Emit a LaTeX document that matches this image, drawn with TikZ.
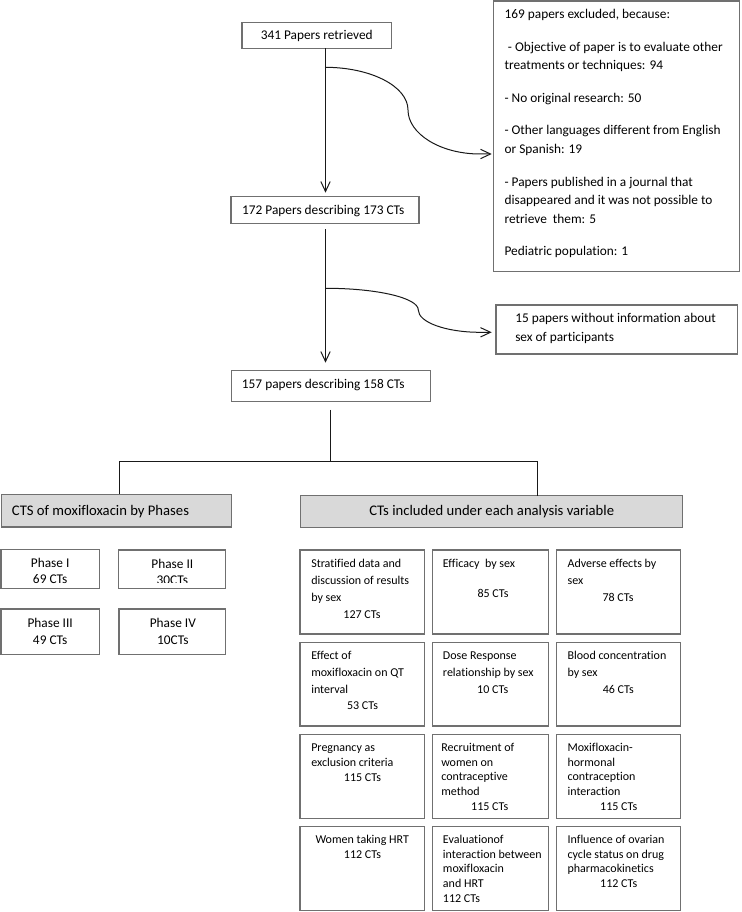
\documentclass[tikz,border=0pt]{standalone}
\usepackage{fontspec}
\setmainfont{Carlito}[Ligatures=NoCommon]
\usetikzlibrary{fit,arrows.meta,calc}
\definecolor{bordergray}{RGB}{112,112,112}
\definecolor{headfill}{RGB}{217,217,217}
\definecolor{linecol}{RGB}{25,25,25}
\tikzset{
  pxunits/.style={x=0.75pt,y=-0.75pt},
  boxs/.style={draw=bordergray, line width=0.9pt, inner sep=0pt, outer sep=0pt},
  headbox/.style={boxs, fill=headfill},
  conn/.style={draw=linecol, line width=0.75pt},
  arr/.style={conn, -{Straight Barb[length=7.5pt,width=7pt]}},
  one9/.style={inner sep=0pt, font=\fontsize{9}{11}\selectfont, text height=6pt, text depth=0pt},
  one10/.style={inner sep=0pt, font=\fontsize{10}{14}\selectfont, text height=6.6pt, text depth=0pt},
  one11/.style={inner sep=0pt, font=\fontsize{11}{14}\selectfont, text height=7.26pt, text depth=0pt},
  blockA/.style={inner sep=0pt, anchor=north west, align=left, font=\fontsize{9}{12.75}\selectfont},
  blockB/.style={inner sep=0pt, anchor=north west, align=left, font=\fontsize{9}{11}\selectfont},
  phs/.style={inner sep=0pt, anchor=north, align=center, font=\fontsize{10}{12.45}\selectfont},
}
\begin{document}
\begin{tikzpicture}[pxunits]
\useasboundingbox (0,0) rectangle (741,912);

% ---------- top boxes ----------
\node[boxs, fit={(242,22.3) (391.7,48.3)}] (b341) {};
\node[boxs, fit={(493.3,1) (739.3,271.7)}] (excl) {};
\node[boxs, fit={(231,196.7) (419,223.3)}] (b172) {};
\node[boxs, fit={(496,305) (737.7,354)}] (b15) {};
\node[boxs, fit={(231.7,370.7) (430.7,401.7)}] (b157) {};

\node[one10] (t341) at (316.7,35) {341 Papers retrieved};
\node[one10] (t172) at (323.3,210) {172 Papers describing 173 CTs};
\node[one10, anchor=west] (t157) at (241.7,384) {157 papers describing 158 CTs};

\node[inner sep=0pt, anchor=north west, align=left, font=\fontsize{10}{14}\selectfont] (texcl) at (504.3,5.3)
 {\strut 169 papers excluded, because:\\[10.4pt]
  \hspace*{2.5pt}- Objective of paper is to evaluate other\\
  treatments or techniques: 94\\[10.4pt]
  - No original research: 50\\[10.4pt]
  - Other languages different from English\\
  or Spanish: 19\\[10.4pt]
  - Papers published in a journal that\\
  disappeared and it was not possible to\\
  retrieve\ \ them: 5\\[10.4pt]
  Pediatric population: 1};

\node[inner sep=0pt, anchor=north west, align=left, font=\fontsize{10}{14.25}\selectfont] (t15) at (515,309.4)
 {\strut 15 papers without information about\\sex of participants};

% ---------- connectors ----------
\coordinate (vx1) at (325.5,0);
\draw[arr, shorten >=3pt] (b341.south -| vx1) -- (b172.north -| vx1);
\coordinate (c1) at (325,67.3);
\coordinate (e1) at ($(excl.north west)+(-1.6,153)$);
\draw[arr] (c1) .. controls (370.8,67.3) and (408,86.3) .. (408,110)
               .. controls (408,133.7) and (440.2,154) .. (480,154) -- (e1);

\draw[arr, shorten <=4.5pt, shorten >=6pt] (b172.south -| vx1) -- (b157.north -| vx1);
\coordinate (c2) at (326,288.3);
\coordinate (e2) at ($(b15.north west)+(-4.3,27.3)$);
\draw[arr] (c2) .. controls (376.8,288.3) and (418.3,297.8) .. (418.3,310)
               .. controls (418.3,322.2) and (445.8,332.3) .. (480,332.3) -- (e2);

% ---------- headers ----------
\node[headbox, fit={(1.7,494.3) (231.7,527)}] (hL) {};
\node[headbox, fit={(300.7,495.7) (682.7,527.7)}] (hR) {};
\node[one11, anchor=west] (thL) at (11.7,510.5) {CTS of moxifloxacin by Phases};
\node[one11] (thR) at (491.7,511) {CTs included under each analysis variable};

\coordinate (jm) at (330.5,461.5);
\coordinate (jl) at (119.5,461.5);
\coordinate (jr) at (537.5,461.5);
\draw[conn, shorten <=6.2pt] (b157.south -| jm) -- (jm);
\draw[conn] (hL.north -| jl) -- (jl) -- (jr) -- (hR.north -| jr);

% ---------- phases ----------
\node[boxs, fit={(1,549.3) (99.3,588.7)}] (p1) {};
\node[boxs, fit={(118.3,550) (225.7,588.7)}] (p2) {};
\node[boxs, fit={(1,609) (99.3,654.3)}] (p3) {};
\node[boxs, fit={(119,609) (225.7,654.3)}] (p4) {};
\node[phs] (tp1) at (50.2,555.5) {\strut Phase I\\69 CTs};
\begin{scope}
  \clip (119,551) rectangle (225,582.5);
  \node[phs] (tp2) at (172.3,556.5) {\strut Phase II\\30CTs};
\end{scope}
\node[phs] (tp3) at (50.2,616.1) {\strut Phase III\\49 CTs};
\node[phs] (tp4) at (172.8,616.1) {\strut Phase IV\\10CTs};

% ---------- analysis grid ----------
\foreach \r/\ya/\yb in {1/550/634, 2/642.3/726, 3/734.3/818.3, 4/826.7/910.7}
  \foreach \c/\xa/\xb in {1/300/424.3, 2/432.3/548.3, 3/556.7/680.3}
    \node[boxs, fit={(\xa,\ya) (\xb,\yb)}] (g\r\c) {};

\node[blockA] (d11) at (311,555.4) {\strut Stratified data and\\discussion of results\\by sex};
\node[one9] (n11) at (362,614) {127 CTs};
\node[blockA] (d12) at (442.7,555.4) {\strut Efficacy\ \ by sex};
\node[one9] (n12) at (493,593.3) {85 CTs};
\node[blockA] (d13) at (567.3,555.4) {\strut Adverse effects by\\sex};
\node[one9] (n13) at (618,597.7) {78 CTs};

\node[blockA] (d21) at (311,647.4) {\strut Effect of\\moxifloxacin on QT\\interval};
\node[one9] (n21) at (362.5,705.7) {53 CTs};
\node[blockA] (d22) at (442.7,647.4) {\strut Dose Response\\relationship by sex};
\node[one9] (n22) at (492.7,689.7) {10 CTs};
\node[blockA] (d23) at (567.3,647.4) {\strut Blood concentration\\by sex};
\node[one9] (n23) at (618.3,689.7) {46 CTs};

\node[blockB] (d31) at (311,741) {\strut Pregnancy as\\exclusion criteria};
\node[one9] (n31) at (362.5,777) {115 CTs};
\node[blockB] (d32) at (441,741) {\strut Recruitment of\\women on\\contraceptive\\method};
\node[one9] (n32) at (489.7,806.3) {115 CTs};
\node[blockB] (d33) at (567.3,741) {\strut Moxifloxacin-\\hormonal\\contraception\\interaction};
\node[one9] (n33) at (618.7,806.3) {115 CTs};

\node[one9] (d41) at (362.2,839.3) {Women taking HRT};
\node[one9] (n41) at (362.5,854.7) {112 CTs};
\node[blockB] (d42) at (442.7,833) {\strut Evaluationof\\interaction between\\moxifloxacin\\and HRT\\112 CTs};
\node[blockB] (d43) at (567.3,833) {\strut Influence of ovarian\\cycle status on drug\\pharmacokinetics};
\node[one9] (n43) at (618.7,883.7) {112 CTs};
\end{tikzpicture}
\end{document}
